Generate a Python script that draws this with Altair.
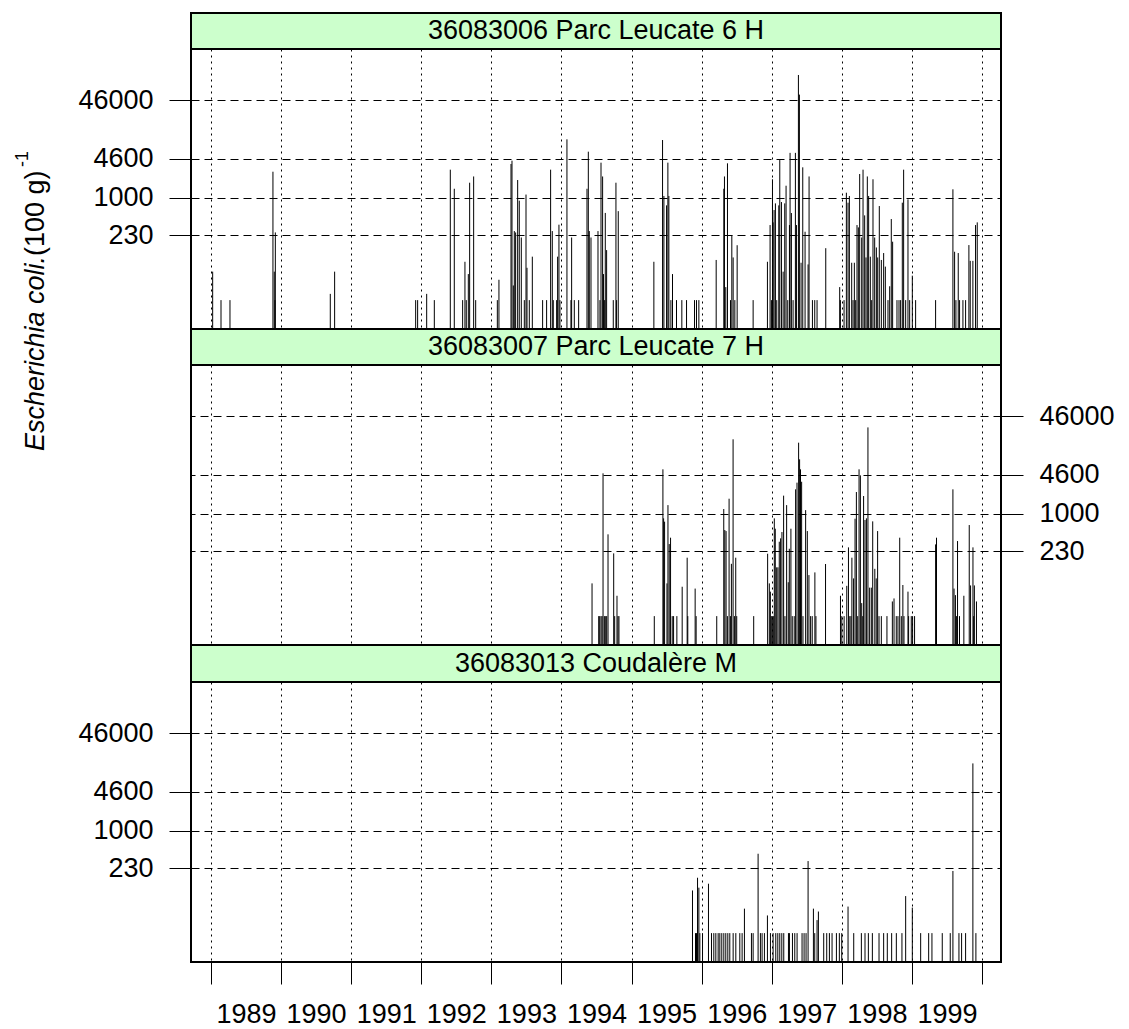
import altair as alt
import pandas as pd

FONT = "Liberation Sans"
W = 810
H = 280

station_labels = ["36083006 Parc Leucate 6 H", "36083007 Parc Leucate 7 H", "36083013 Coudalère M"]
y_ticks = [230, 1000, 4600, 46000]
year_ticks = list(range(1989, 2001))

# ---- panel 1 : 36083006 Parc Leucate 6 H
p1_dates = [1989.024, 1989.143, 1989.271, 1989.884, 1989.903, 1989.913, 1989.918,
            1990.702, 1990.764, 1991.920, 1991.948,
            1992.077, 1992.186, 1992.414, 1992.471, 1992.590, 1992.623, 1992.642, 1992.671, 1992.690, 1992.747, 1992.776,
            1993.085, 1993.108, 1993.280, 1993.294, 1993.313, 1993.327, 1993.346, 1993.375, 1993.398, 1993.427, 1993.470,
            1993.494, 1993.508, 1993.541, 1993.584, 1993.731, 1993.788, 1993.845, 1993.869, 1993.883, 1993.931, 1993.945,
            1993.964, 1993.978,
            1994.078, 1994.135, 1994.145, 1994.183, 1994.245, 1994.364, 1994.383, 1994.397, 1994.421, 1994.521, 1994.549,
            1994.564, 1994.587, 1994.600, 1994.616, 1994.625, 1994.644, 1994.739, 1994.777, 1994.786, 1994.810,
            1995.318, 1995.442, 1995.461, 1995.499, 1995.518, 1995.532, 1995.561, 1995.584, 1995.641, 1995.717, 1995.784,
            1995.898, 1995.926, 1995.960,
            1996.207, 1996.316, 1996.325, 1996.344, 1996.368, 1996.411, 1996.430, 1996.449, 1996.473, 1996.506, 1996.734,
            1996.938, 1996.976, 1996.995,
            1997.010, 1997.019, 1997.033, 1997.052, 1997.071, 1997.100, 1997.114, 1997.138, 1997.162, 1997.185, 1997.204,
            1997.228, 1997.252, 1997.261, 1997.280, 1997.304, 1997.337, 1997.352, 1997.380, 1997.394, 1997.418, 1997.442,
            1997.475, 1997.518, 1997.532, 1997.580, 1997.613, 1997.646, 1997.770, 1997.969, 1997.979,
            1998.031, 1998.064, 1998.088, 1998.107, 1998.140, 1998.159, 1998.178, 1998.197, 1998.216, 1998.235, 1998.254,
            1998.283, 1998.302, 1998.325, 1998.344, 1998.363, 1998.382, 1998.406, 1998.425, 1998.444, 1998.468, 1998.492,
            1998.511, 1998.534, 1998.563, 1998.596, 1998.620, 1998.658, 1998.682, 1998.705, 1998.724, 1998.786, 1998.815,
            1998.838, 1998.862, 1998.881, 1998.910, 1998.943, 1998.967,
            1999.005, 1999.052, 1999.337, 1999.584, 1999.608, 1999.627, 1999.660, 1999.679, 1999.727, 1999.765, 1999.812,
            1999.831, 1999.869, 1999.907, 1999.931]
p1_values = [55, 18, 18, 2770, 55, 18, 256,
             23, 55, 18, 18,
             23, 18, 3000, 1420, 18, 81, 18, 50, 1800, 2300, 18,
             18, 40, 3750, 4270, 32, 270, 256, 2000, 890, 210, 18,
             1130, 64, 18, 99, 18, 18, 3000, 270, 18, 18, 99,
             347, 18,
             9870, 18, 210, 18, 18, 1420, 6080, 270, 210, 270, 18,
             3950, 2300, 50, 18, 550, 128, 18, 1800, 18, 590,
             81, 9600, 1070, 740, 3950, 1070, 18, 50, 18, 18, 18,
             18, 18, 18,
             87, 1420, 2300, 30, 3850, 18, 230, 96, 18, 155, 18,
             81, 342, 18,
             2060, 380, 616, 800, 18, 740, 4380, 843, 55, 800, 1600,
             18, 342, 5800, 548, 18, 5800, 342, 123000, 57000, 78, 3290,
             263, 73, 2300, 18, 18, 18, 138, 30, 18,
             18, 1216, 822, 1070, 78, 18, 78, 18, 342, 312, 2530,
             210, 3000, 500, 96, 2300, 1070, 99, 18, 2060, 210, 142,
             96, 721, 87, 114, 67, 18, 31, 433, 178, 18, 18,
             18, 822, 3000, 18, 937, 18,
             47, 18, 18, 1390, 120, 18, 114, 18, 18, 18, 156,
             84, 84, 342, 380]

# ---- panel 2 : 36083007 Parc Leucate 7 H
p2_dates = [1994.436, 1994.531, 1994.545, 1994.564, 1994.579, 1994.593, 1994.612, 1994.631, 1994.645, 1994.664,
            1994.745, 1994.759, 1994.792, 1994.806, 1994.820,
            1995.324, 1995.447, 1995.457, 1995.471, 1995.505, 1995.519, 1995.537, 1995.556, 1995.580, 1995.599,
            1995.646, 1995.722, 1995.793, 1995.802, 1995.907, 1995.921,
            1996.215, 1996.315, 1996.330, 1996.348, 1996.367, 1996.391, 1996.410, 1996.424, 1996.448, 1996.467,
            1996.486, 1996.500, 1996.742,
            1996.941, 1996.965, 1996.980, 1996.993, 1997.008, 1997.022, 1997.036, 1997.050, 1997.070, 1997.088,
            1997.107, 1997.126, 1997.145, 1997.169, 1997.188, 1997.212, 1997.235, 1997.250, 1997.273, 1997.292,
            1997.320, 1997.340, 1997.360, 1997.383, 1997.397, 1997.410, 1997.426, 1997.445, 1997.483, 1997.507,
            1997.530, 1997.554, 1997.577, 1997.615, 1997.630, 1997.767,
            1997.980, 1997.999, 1998.032, 1998.070, 1998.094, 1998.113, 1998.130, 1998.143, 1998.167, 1998.188,
            1998.207, 1998.226, 1998.245, 1998.264, 1998.283, 1998.298, 1998.310, 1998.330, 1998.350, 1998.372,
            1998.396, 1998.420, 1998.440, 1998.470, 1998.490, 1998.510, 1998.530, 1998.563, 1998.643, 1998.720,
            1998.744, 1998.776, 1998.800, 1998.825, 1998.848, 1998.870, 1998.886, 1998.943, 1998.952, 1998.990,
            1999.009, 1999.037,
            1999.337, 1999.350, 1999.584, 1999.600, 1999.620, 1999.634, 1999.650, 1999.678, 1999.740, 1999.817,
            1999.836, 1999.870, 1999.880, 1999.890, 1999.920]
p2_values = [65, 18, 18, 18, 18, 4870, 18, 18, 18, 445,
             211, 18, 40, 18, 18,
             18, 5700, 833, 731, 65, 1400, 304, 390, 18, 18,
             18, 57, 178, 18, 53, 18,
             18, 1200, 527, 506, 18, 1800, 18, 140, 18500, 18,
             178, 18, 18,
             208, 65, 47, 18, 18, 18, 833, 555, 122, 122,
             333, 380, 487, 2030, 18, 1400, 68, 253, 555, 18,
             18, 2600, 3380, 16200, 8430, 5700, 3500, 18, 1150, 506,
             90, 18, 18, 100, 18, 139,
             40, 18, 18, 59, 267, 18, 18, 178, 79, 822,
             2340, 18, 5700, 4500, 30, 18, 2000, 780, 833, 29500,
             55, 55, 740, 115, 79, 506, 18, 18, 18, 32,
             36, 18, 18, 390, 18, 61, 18, 47, 18, 18,
             18, 18,
             300, 390, 2600, 53, 41, 18, 342, 18, 40, 641,
             60, 267, 18, 60, 32]

# ---- panel 3 : 36083013 Coudalère M
p3_dates = [1995.869, 1995.912, 1995.926, 1995.941, 1995.960, 1995.974, 1996.012, 1996.097,
            1996.140, 1996.173, 1996.202, 1996.235, 1996.259, 1996.287, 1996.316, 1996.344, 1996.373, 1996.401,
            1996.449, 1996.487, 1996.544, 1996.577, 1996.610, 1996.710, 1996.734, 1996.805, 1996.838, 1996.862,
            1996.895, 1996.938, 1996.981, 1997.019, 1997.057, 1997.086, 1997.114, 1997.143, 1997.171, 1997.238,
            1997.252, 1997.295, 1997.328, 1997.361, 1997.432, 1997.461, 1997.489, 1997.518, 1997.594, 1997.613,
            1997.646, 1997.665, 1997.741, 1997.784, 1997.822, 1997.860, 1997.922, 1997.964, 1997.998,
            1998.088, 1998.169, 1998.278, 1998.330, 1998.378, 1998.435, 1998.530, 1998.596, 1998.648, 1998.710,
            1998.777, 1998.857, 1998.910, 1999.005, 1999.124, 1999.238, 1999.285, 1999.432, 1999.546, 1999.584,
            1999.670, 1999.708, 1999.765, 1999.869, 1999.912]
p3_values = [96, 18, 18, 158, 107, 18, 18, 125,
             18, 18, 18, 18, 18, 18, 18, 18, 18, 18,
             18, 18, 18, 18, 47, 18, 18, 405, 18, 18,
             18, 36, 18, 18, 18, 18, 18, 18, 18, 18,
             18, 18, 18, 18, 18, 18, 18, 304, 47, 18,
             30, 42, 18, 18, 18, 18, 18, 18, 18,
             51, 18, 18, 18, 18, 18, 18, 18, 18, 18,
             18, 18, 77, 49, 18, 18, 18, 18, 18, 206,
             18, 18, 18, 14000, 18]

x_scale = alt.Scale(domain=[1988.715, 2000.27], nice=False, zero=False)
y_scale = alt.Scale(type="log", domain=[5.8, 341000], nice=False)

BORDER = dict(stroke="black", strokeWidth=2)


def strip(label, h=36):
    df = pd.DataFrame({"label": [label]})
    return alt.Chart(df).mark_text(
        font=FONT, fontSize=27, color="black", baseline="middle", align="center"
    ).encode(
        text="label:N", x=alt.value(W / 2), y=alt.value(h / 2)
    ).properties(width=W, height=h,
                 view=alt.ViewBackground(fill="#CCFFCC", **BORDER))


def plot(dates, values, orient, show_x):
    df = pd.DataFrame({"year": dates, "value": values})
    x_axis = alt.Axis(
        values=year_ticks, grid=True, gridDash=[2, 4], gridColor="black", gridWidth=1, gridOpacity=1,
        domain=False, ticks=show_x, labels=show_x, tickSize=22, tickColor="black", tickWidth=1,
        labelOffset=35, labelExpr="datum.value >= 2000 ? '' : datum.label", format="d",
        labelFontSize=27, labelFont=FONT, labelColor="black", labelPadding=17,
        labelOverlap=False, labelFlush=False, title=None,
    )
    y_axis = alt.Axis(
        values=y_ticks, orient=orient, grid=True, gridDash=[8, 5], gridColor="black", gridWidth=1,
        gridOpacity=1, tickSize=22, tickColor="black", tickWidth=1, labelFontSize=27, labelFont=FONT,
        labelColor="black", labelPadding=16, domain=False, title=None, format="d",
        labelOverlap=False, labelFlush=False,
    )
    return alt.Chart(df).mark_rule(color="black", strokeWidth=1).encode(
        x=alt.X("year:Q", scale=x_scale, axis=x_axis),
        y=alt.Y("value:Q", scale=y_scale, axis=y_axis),
        y2=alt.value(H),
    )


def title_piece(text, x, y, size, style):
    df = pd.DataFrame({"t": [text]})
    return alt.Chart(df).mark_text(
        font=FONT, fontSize=size, fontStyle=style, color="black", angle=270,
        align="left", baseline="alphabetic"
    ).encode(text="t:N", x=alt.value(x), y=alt.value(y))


plot1 = alt.layer(
    plot(p1_dates, p1_values, "left", False),
    title_piece("Escherichia coli.", -147, 402, 27, "italic"),
    title_piece("(100 g)", -147, 207, 27, "normal"),
    title_piece("-1", -163, 118, 18, "normal"),
).properties(width=W, height=H, view=alt.ViewBackground(fill="white", **BORDER))
plot2 = alt.layer(plot(p2_dates, p2_values, "right", False)).properties(
    width=W, height=H, view=alt.ViewBackground(fill="white", **BORDER))
plot3 = alt.layer(plot(p3_dates, p3_values, "left", True)).properties(
    width=W, height=H, view=alt.ViewBackground(fill="white", **BORDER))

chart = alt.vconcat(
    strip(station_labels[0]), plot1,
    strip(station_labels[1]), plot2,
    strip(station_labels[2], 37), plot3,
    spacing=0, bounds="flush",
).properties(
    padding={"left": 5, "top": 4, "right": 5, "bottom": 5},
    background="white",
).configure_view(**BORDER)

chart.save("out.html", embed_options={"renderer": "svg", "actions": False})
